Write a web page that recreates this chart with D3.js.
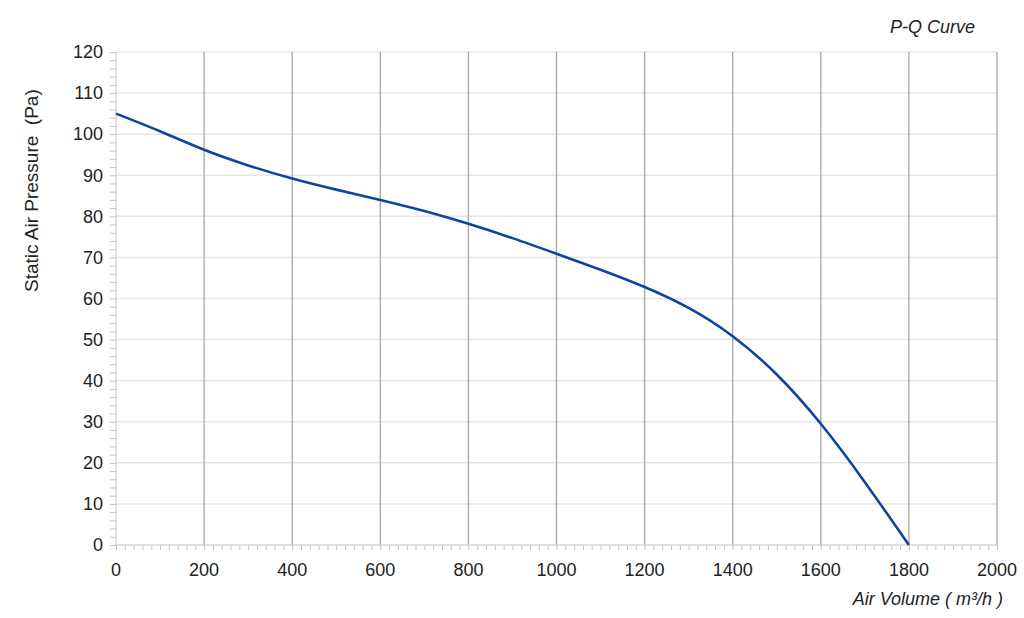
<!DOCTYPE html>
<html>
<head>
<meta charset="utf-8">
<script src="https://cdn.jsdelivr.net/npm/d3@7"></script>
<style>
  body { margin: 0; background: #fff; }
  text { font-family: "Liberation Sans", Arial, sans-serif; fill: #222; }
</style>
</head>
<body>
<svg id="canvas" width="1024" height="618"></svg>
<script>
const airVolume = [0, 100, 200, 300, 400, 500, 600, 700, 800, 900, 1000, 1100, 1200, 1300, 1400, 1500, 1600, 1700, 1800];
const pressure = [105, 100.7, 96.2, 92.4, 89.2, 86.5, 84, 81.3, 78.2, 74.7, 70.9, 67, 62.8, 57.7, 50.8, 41.5, 29.5, 15.3, 0];
const xTicks = [0, 200, 400, 600, 800, 1000, 1200, 1400, 1600, 1800, 2000];
const yTicks = [0, 10, 20, 30, 40, 50, 60, 70, 80, 90, 100, 110, 120];

const svg = d3.select('#canvas');
const plotLeft = 116, plotRight = 997, plotTop = 52, plotBottom = 545;

const x = d3.scaleLinear().domain([0, 2000]).range([plotLeft, plotRight]);
const y = d3.scaleLinear().domain([0, 120]).range([plotBottom, plotTop]);

// horizontal grid
svg.append('g')
  .selectAll('line')
  .data(yTicks.filter(t => t > 0))
  .enter().append('line')
  .attr('x1', plotLeft).attr('x2', plotRight)
  .attr('y1', d => y(d)).attr('y2', d => y(d))
  .attr('stroke', '#e6e6e6')
  .attr('stroke-width', 1.5);

// vertical grid
svg.append('g')
  .selectAll('line')
  .data(xTicks.filter(t => t > 0))
  .enter().append('line')
  .attr('x1', d => x(d)).attr('x2', d => x(d))
  .attr('y1', plotTop).attr('y2', plotBottom)
  .attr('stroke', '#a6a6a6')
  .attr('stroke-width', 1.3);

// y axis with minor ticks
const yAxis = svg.append('g').attr('transform', `translate(${plotLeft},0)`);
yAxis.call(d3.axisLeft(y).tickValues(d3.range(0, 121, 2)).tickSize(6).tickFormat(''));
yAxis.selectAll('line').attr('stroke', '#c4c4c4');
yAxis.select('.domain').attr('stroke', '#c4c4c4').attr('d', `M0,${plotTop}V${plotBottom}`);
yAxis.selectAll('.major')
  .data(yTicks)
  .enter().append('text')
  .attr('x', -13)
  .attr('y', d => y(d))
  .attr('dy', '0.35em')
  .attr('text-anchor', 'end')
  .style('font-size', '18px')
  .text(d => d);

// x axis with minor ticks
const xAxis = svg.append('g').attr('transform', `translate(0,${plotBottom})`);
xAxis.call(d3.axisBottom(x).tickValues(d3.range(0, 2001, 20)).tickSize(5).tickFormat(''));
xAxis.selectAll('line').attr('stroke', '#c4c4c4');
xAxis.select('.domain').attr('stroke', '#c4c4c4').attr('d', `M${plotLeft},0H${plotRight}`);
xAxis.selectAll('.major')
  .data(xTicks)
  .enter().append('text')
  .attr('x', d => x(d))
  .attr('y', 31)
  .attr('text-anchor', 'middle')
  .style('font-size', '18px')
  .text(d => d);

// curve
const line = d3.line()
  .x((d, i) => x(airVolume[i]))
  .y(d => y(d))
  .curve(d3.curveNatural);

svg.append('path')
  .datum(pressure)
  .attr('d', line)
  .attr('fill', 'none')
  .attr('stroke', '#0d469c')
  .attr('stroke-width', 2.6);

// labels
svg.append('text')
  .attr('transform', 'translate(38,292) rotate(-90)')
  .attr('text-anchor', 'start')
  .style('font-size', '19px')
  .style('white-space', 'pre')
  .text('Static Air Pressure  (Pa)');

svg.append('text')
  .attr('x', 1003)
  .attr('y', 605)
  .attr('text-anchor', 'end')
  .style('font-size', '18px')
  .style('font-style', 'italic')
  .text('Air Volume ( m³/h )');

svg.append('text')
  .attr('x', 975)
  .attr('y', 33)
  .attr('text-anchor', 'end')
  .style('font-size', '18px')
  .style('font-style', 'italic')
  .text('P-Q Curve');
</script>
</body>
</html>
